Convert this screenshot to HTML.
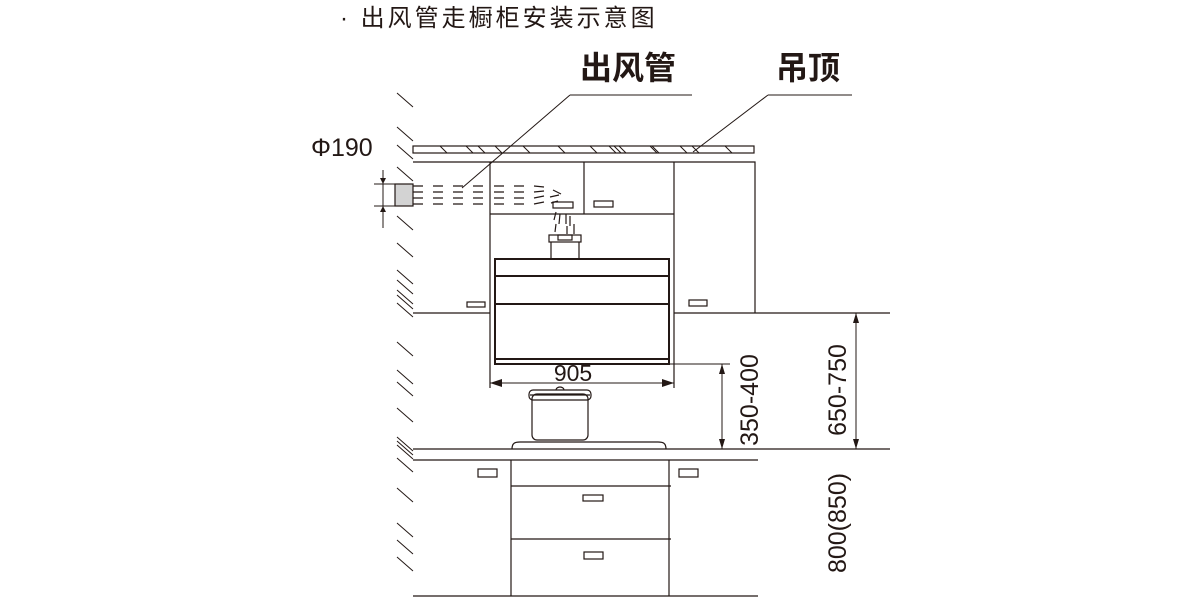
<!DOCTYPE html>
<html><head><meta charset="utf-8"><style>
html,body{margin:0;padding:0;background:#fff;}
svg{display:block;}
text{font-family:"Liberation Sans","Noto Sans CJK SC",sans-serif;fill:#231815;}
</style></head><body>
<svg width="1200" height="600" viewBox="0 0 1200 600" xmlns="http://www.w3.org/2000/svg">
<g stroke="#231815" fill="none" stroke-width="1.2">
<g stroke-width="1">
<path d="M397 93l16 14M397 127l16 14M397 145l16 14M397 167l16 14M397 216l16 14M397 243l16 14M397 270l16 14M397 280l16 14M397 290l16 14M397 295l16 14M397 303l16 14M397 342l16 14M397 370l16 14M397 382l16 14M397 408l16 14M397 437l16 14M397 441l16 14M397 445l16 14M397 458l16 14M397 488l16 14M397 523l16 14M397 540l16 14M397 557l16 14"/>
</g>
<rect x="413" y="146" width="341" height="7"/>
<path d="M440 146l7 7M466 146l7 7M478 146l7 7M495 146l7 7M523 146l7 7M558 146l7 7M590 146l7 7M609 146l7 7M614 146l7 7M619 146l7 7M650 146l7 7M652 146l7 7M680 146l7 7M692 146l7 7M725 146l7 7" stroke-width="1"/>
<path d="M413 162H755V313M490 162V388M674 162V388M584 162V214M490 214H674M413 313H490M674 313H890"/>
<rect x="594" y="201" width="19" height="6"/>
<rect x="467" y="302" width="18" height="5"/>
<rect x="689" y="300" width="18" height="6"/>
<rect x="395" y="184" width="18" height="22" fill="#d3d3d3"/>
<g stroke-width="1.2">
<path d="M413 186h10M413 192h10M413 198h10M413 204h10"/>
<path d="M433 186h10M433 192h10M433 198h10M433 204h10"/>
<path d="M453 186h10M453 192h10M453 198h10M453 204h10"/>
<path d="M473 186h10M473 192h10M473 198h10M473 204h10"/>
<path d="M494 186h10M494 192h10M494 198h10M494 204h10"/>
<path d="M514 186h10M514 192h10M514 198h10M514 204h10"/>
<path d="M534 186l10 1M534 192l10 -1M534 198l10 -2M534 204l10 -2"/>
<path d="M553 190l8 4M550 197l9 -2M551 203l7 -2"/>
<path d="M556 212l-2 8M560 214l-1 10M566 214l0 10M570 216l0 10M556 224l-1 8M567 226l0 8M574 224l0 10"/>
</g>
<rect x="553" y="202" width="20" height="6"/>
<rect x="549" y="235" width="32" height="7"/>
<rect x="558" y="235" width="14" height="5"/>
<path d="M551 242V259M579 242V259"/>
<rect x="495" y="259" width="174" height="105" stroke-width="2"/>
<path d="M495 276H669M495 304H669M495 359H669" stroke-width="2"/>
<path d="M570 95H692M570 95L462 188M768 95H852M768 95L693 152" stroke-width="1"/>
<path d="M374 184H395M374 206H395M383 170V228" stroke-width="1"/>
<path d="M380 178l3 6 3-6zM380 212l3-6 3 6z" fill="#231815" stroke="none"/>
<path d="M490 383H674" stroke-width="1"/>
<path d="M490 383l12-4v8zM674 383l-12-4v8z" fill="#231815" stroke="none"/>
<path d="M669 364H730M722 364V449" stroke-width="1"/>
<path d="M722 364l-3 10h6zM722 449l-3-10h6z" fill="#231815" stroke="none"/>
<path d="M856 313V449" stroke-width="1"/>
<path d="M856 313l-3 10h6zM856 449l-3-10h6z" fill="#231815" stroke="none"/>
<rect x="532" y="394" width="56" height="46" rx="5"/>
<rect x="529" y="390" width="62" height="10" rx="4"/>
<path d="M530 395H590"/>
<path d="M556 390a4 3 0 0 1 8 0"/>
<path d="M512 449c0-6 3-7 8-7h138c5 0 8 1 8 7"/>
<path d="M413 449H890M413 460H758M413 596H758M511 460V596M669 460V596M511 486H671M511 539H671"/>
<rect x="478" y="469" width="19" height="8"/>
<rect x="679" y="469" width="19" height="8"/>
<rect x="583" y="495" width="20" height="6"/>
<rect x="584" y="552" width="19" height="7"/>
</g>
<text x="340" y="26" font-size="24" letter-spacing="3">· 出风管走橱柜安装示意图</text>
<text x="580" y="79" font-size="32" font-weight="bold">出风管</text>
<text x="776" y="79" font-size="32" font-weight="bold">吊顶</text>
<text x="311" y="156" font-size="25">Φ190</text>
<text x="573" y="381" font-size="23" text-anchor="middle">905</text>
<text transform="translate(758,400) rotate(-90)" font-size="25" text-anchor="middle">350-400</text>
<text transform="translate(846,390) rotate(-90)" font-size="25" text-anchor="middle">650-750</text>
<text transform="translate(846,523) rotate(-90)" font-size="25" text-anchor="middle">800(850)</text>
</svg>
</body></html>
